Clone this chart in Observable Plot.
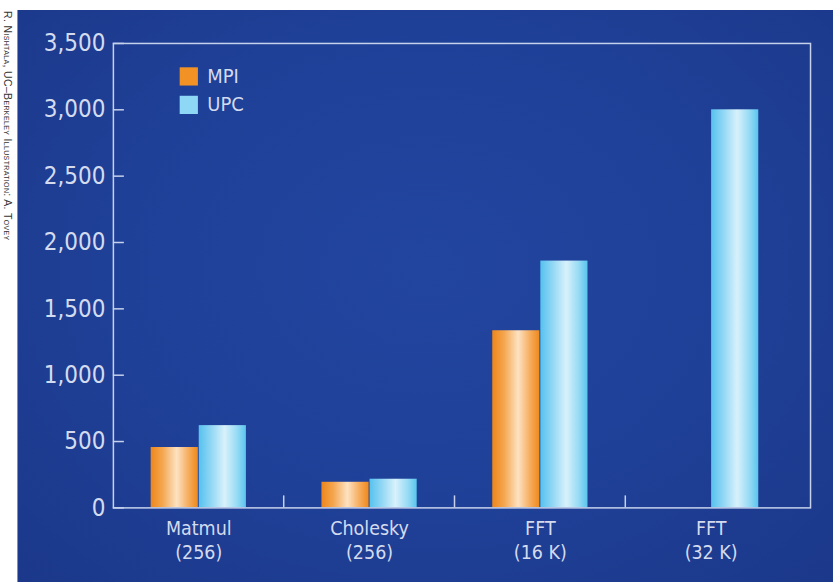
<!DOCTYPE html>
<html>
<head>
<meta charset="utf-8">
<script src="https://cdn.jsdelivr.net/npm/d3@7"></script>
<script src="https://cdn.jsdelivr.net/npm/@observablehq/plot@0.6"></script>
<style>
  html, body { margin: 0; padding: 0; background: #ffffff; }
  #wrap { position: relative; width: 833px; height: 582px; overflow: hidden; background: #fff; }
  #credit {
    position: absolute; left: 2px; top: 11px;
    writing-mode: vertical-rl;
    font: 10.5px "Liberation Sans", "DejaVu Sans", sans-serif;
    font-variant: small-caps; letter-spacing: 0.35px;
    color: #333333; white-space: nowrap;
  }
  #panel {
    position: absolute; left: 17px; top: 10px; width: 816px; height: 572px;
    background: radial-gradient(ellipse at 50% 45%, #2245a0 0%, #1f4097 55%, #1b388a 100%);
    border-left: 1px solid #8a8f9c;
    box-sizing: border-box;
  }
  #panel svg { display: block; }
</style>
</head>
<body>
<svg width="0" height="0" style="position:absolute">
  <defs>
    <linearGradient id="gradMPI" x1="0" x2="1" y1="0" y2="0">
      <stop offset="0" stop-color="#ee861a"/>
      <stop offset="0.25" stop-color="#f4a64f"/>
      <stop offset="0.55" stop-color="#fde2c2"/>
      <stop offset="0.8" stop-color="#f6ad5e"/>
      <stop offset="1" stop-color="#ef891c"/>
    </linearGradient>
    <linearGradient id="gradUPC" x1="0" x2="1" y1="0" y2="0">
      <stop offset="0" stop-color="#56c2ee"/>
      <stop offset="0.25" stop-color="#8fd6f4"/>
      <stop offset="0.55" stop-color="#d8f1fb"/>
      <stop offset="0.8" stop-color="#9adcf5"/>
      <stop offset="1" stop-color="#5ac5ef"/>
    </linearGradient>
  </defs>
</svg>
<div id="wrap">
  <div id="credit">R. Nishtala, UC–Berkeley Illustration: A. Tovey</div>
  <div id="panel"></div>
</div>
<script>
// ---- data ----
const benchmarks = ["Matmul", "Cholesky", "FFT", "FFT"];
const sizes = ["(256)", "(256)", "(16 K)", "(32 K)"];
const series = ["MPI", "UPC"];
const mpiValues = [455, 193, 1335, null];
const upcValues = [620, 216, 1860, 3000];
const yTicks = [0, 500, 1000, 1500, 2000, 2500, 3000, 3500];

// ---- build table ----
const categories = benchmarks.map((b, i) => `${b}\n${sizes[i]}`);
const rows = [];
categories.forEach((c, i) => {
  if (mpiValues[i] != null) rows.push({cat: c, series: "MPI", value: mpiValues[i]});
  if (upcValues[i] != null) rows.push({cat: c, series: "UPC", value: upcValues[i]});
});

// ---- layout ----
const W = 816, H = 572;
const mL = 95, mR = 23, mT = 33, mB = 74;
const plotW = W - mL - mR, plotH = H - mT - mB;
const padOuter = 0.03;
const step = plotW / (categories.length + 2 * padOuter);
const barW = step * 0.28;
const half = step / 2;

const lineColor = "#c6d1ec";
const textColor = "#d4dbef";
const fills = {MPI: "url(#gradMPI)", UPC: "url(#gradUPC)"};
const swatch = {MPI: "#f39224", UPC: "#8fd8f5"};

const chart = Plot.plot({
  width: W, height: H,
  marginLeft: mL, marginRight: mR, marginTop: mT, marginBottom: mB,
  style: {
    background: "transparent",
    color: textColor,
    fontFamily: '"Liberation Sans Narrow", "DejaVu Sans Condensed", "Roboto", sans-serif'
  },
  x: {domain: categories, paddingInner: 0, paddingOuter: padOuter, align: 0},
  y: {domain: [0, 3500]},
  marks: [
    Plot.barY(rows.filter(d => d.series === "MPI"), {
      x: "cat", y: "value", fill: fills.MPI,
      insetLeft: half - barW, insetRight: half
    }),
    Plot.barY(rows.filter(d => d.series === "UPC"), {
      x: "cat", y: "value", fill: fills.UPC,
      insetLeft: half, insetRight: half - barW
    }),
    Plot.ruleY(yTicks, {y: d => d, insetRight: plotW - 11, stroke: lineColor, strokeWidth: 1.5}),
    Plot.ruleX(categories.slice(1), {x: d => d, dx: -half, insetTop: plotH - 12, stroke: lineColor, strokeWidth: 1.5}),
    Plot.frame({stroke: lineColor, strokeWidth: 1.5}),
    Plot.axisY({ticks: yTicks, tickSize: 0, tickPadding: 8, tickFormat: d3.format(","), fontSize: 24, label: null, fill: textColor}),
    Plot.axisX({tickSize: 0, tickPadding: 10, fontSize: 19.5, lineHeight: 1.24, label: null, fill: textColor}),
    ...series.map((s, i) => Plot.dot([s], {
      frameAnchor: "top-left", dx: 75.5, dy: 33 + i * 28.5,
      symbol: "square", r: 10.3, fill: swatch[s], stroke: null
    })),
    ...series.map((s, i) => Plot.text([s], {
      text: d => d, frameAnchor: "top-left", dx: 94, dy: 33 + i * 28.5,
      textAnchor: "start", lineAnchor: "middle", fontSize: 20, fill: textColor
    }))
  ]
});
document.getElementById("panel").appendChild(chart);
</script>
</body>
</html>
